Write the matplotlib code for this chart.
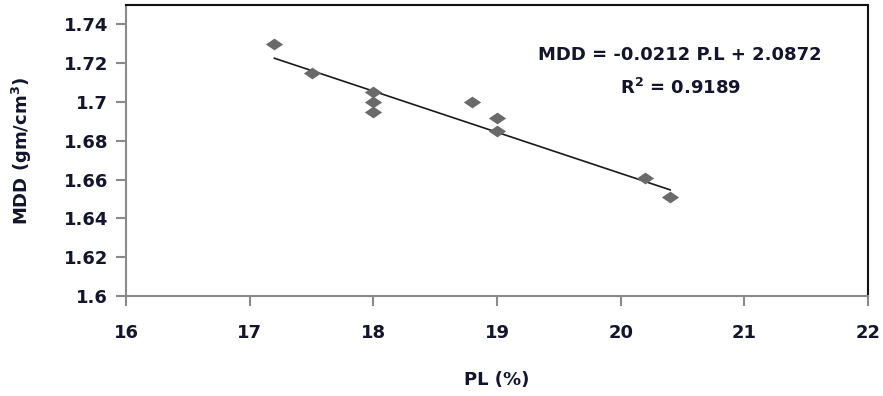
import matplotlib
matplotlib.use("Agg")
import matplotlib.pyplot as plt
import numpy as np
from matplotlib.path import Path

pl = [17.2, 17.5, 18.0, 18.0, 18.0, 18.8, 19.0, 19.0, 20.2, 20.4]
mdd = [1.730, 1.715, 1.705, 1.700, 1.695, 1.700, 1.692, 1.685, 1.661, 1.651]
slope = -0.0212
intercept = 2.0872
r2 = 0.9189
xticks = [16, 17, 18, 19, 20, 21, 22]
yticks = [1.6, 1.62, 1.64, 1.66, 1.68, 1.7, 1.72, 1.74]
ytick_labels = ["1.6", "1.62", "1.64", "1.66", "1.68", "1.7", "1.72", "1.74"]

plt.rcParams['font.family'] = ['DejaVu Sans']
fig = plt.figure(figsize=(8.83, 3.96), dpi=100)
ax = fig.add_axes([126/883, 1-296/396, (868-126)/883, (296-5)/396])

diamond = Path([(-1, 0), (0, 0.68), (1, 0), (0, -0.68), (-1, 0)],
               [Path.MOVETO, Path.LINETO, Path.LINETO, Path.LINETO, Path.CLOSEPOLY])
ax.scatter(pl, mdd, marker=diamond, s=155, color='#6a6a6a', zorder=3, linewidths=0)

xl = np.array([min(pl), max(pl)])
ax.plot(xl, slope*xl + intercept, color='#1a1a1a', lw=1.2, zorder=2)

ax.set_xlim(16, 22)
ax.set_ylim(1.6, 1.75)
ax.set_xticks(xticks)
ax.set_xticklabels([str(t) for t in xticks])
ax.set_yticks(yticks)
ax.set_yticklabels(ytick_labels)

for s in ['left', 'bottom']:
    ax.spines[s].set_color('#8a8a8a')
    ax.spines[s].set_linewidth(1.5)
for s in ['top', 'right']:
    ax.spines[s].set_color('#111111')
    ax.spines[s].set_linewidth(1.5)

txtc = '#14142a'
ax.tick_params(axis='both', colors='#8a8a8a', width=1.5, length=7, direction='out',
               labelcolor=txtc, labelsize=13)
ax.tick_params(axis='x', pad=13)
ax.tick_params(axis='y', pad=6)
for lab in ax.get_xticklabels() + ax.get_yticklabels():
    lab.set_fontweight('bold')

ax.set_xlabel('PL (%)', fontsize=13, fontweight='bold', color=txtc, labelpad=21)
ax.set_ylabel('MDD (gm/cm$^\\mathbf{3}$)', fontsize=13, fontweight='bold', color=txtc, labelpad=21)

ax.text(0.746, 0.828, 'MDD = -0.0212 P.L + 2.0872', transform=ax.transAxes,
        ha='center', va='center', fontsize=13, fontweight='bold', color=txtc)
ax.text(0.748, 0.715, 'R$^{\\mathbf{2}}$ = ' + f'{r2:.4f}', transform=ax.transAxes,
        ha='center', va='center', fontsize=13, fontweight='bold', color=txtc)

fig.savefig('out.png', dpi=100)
